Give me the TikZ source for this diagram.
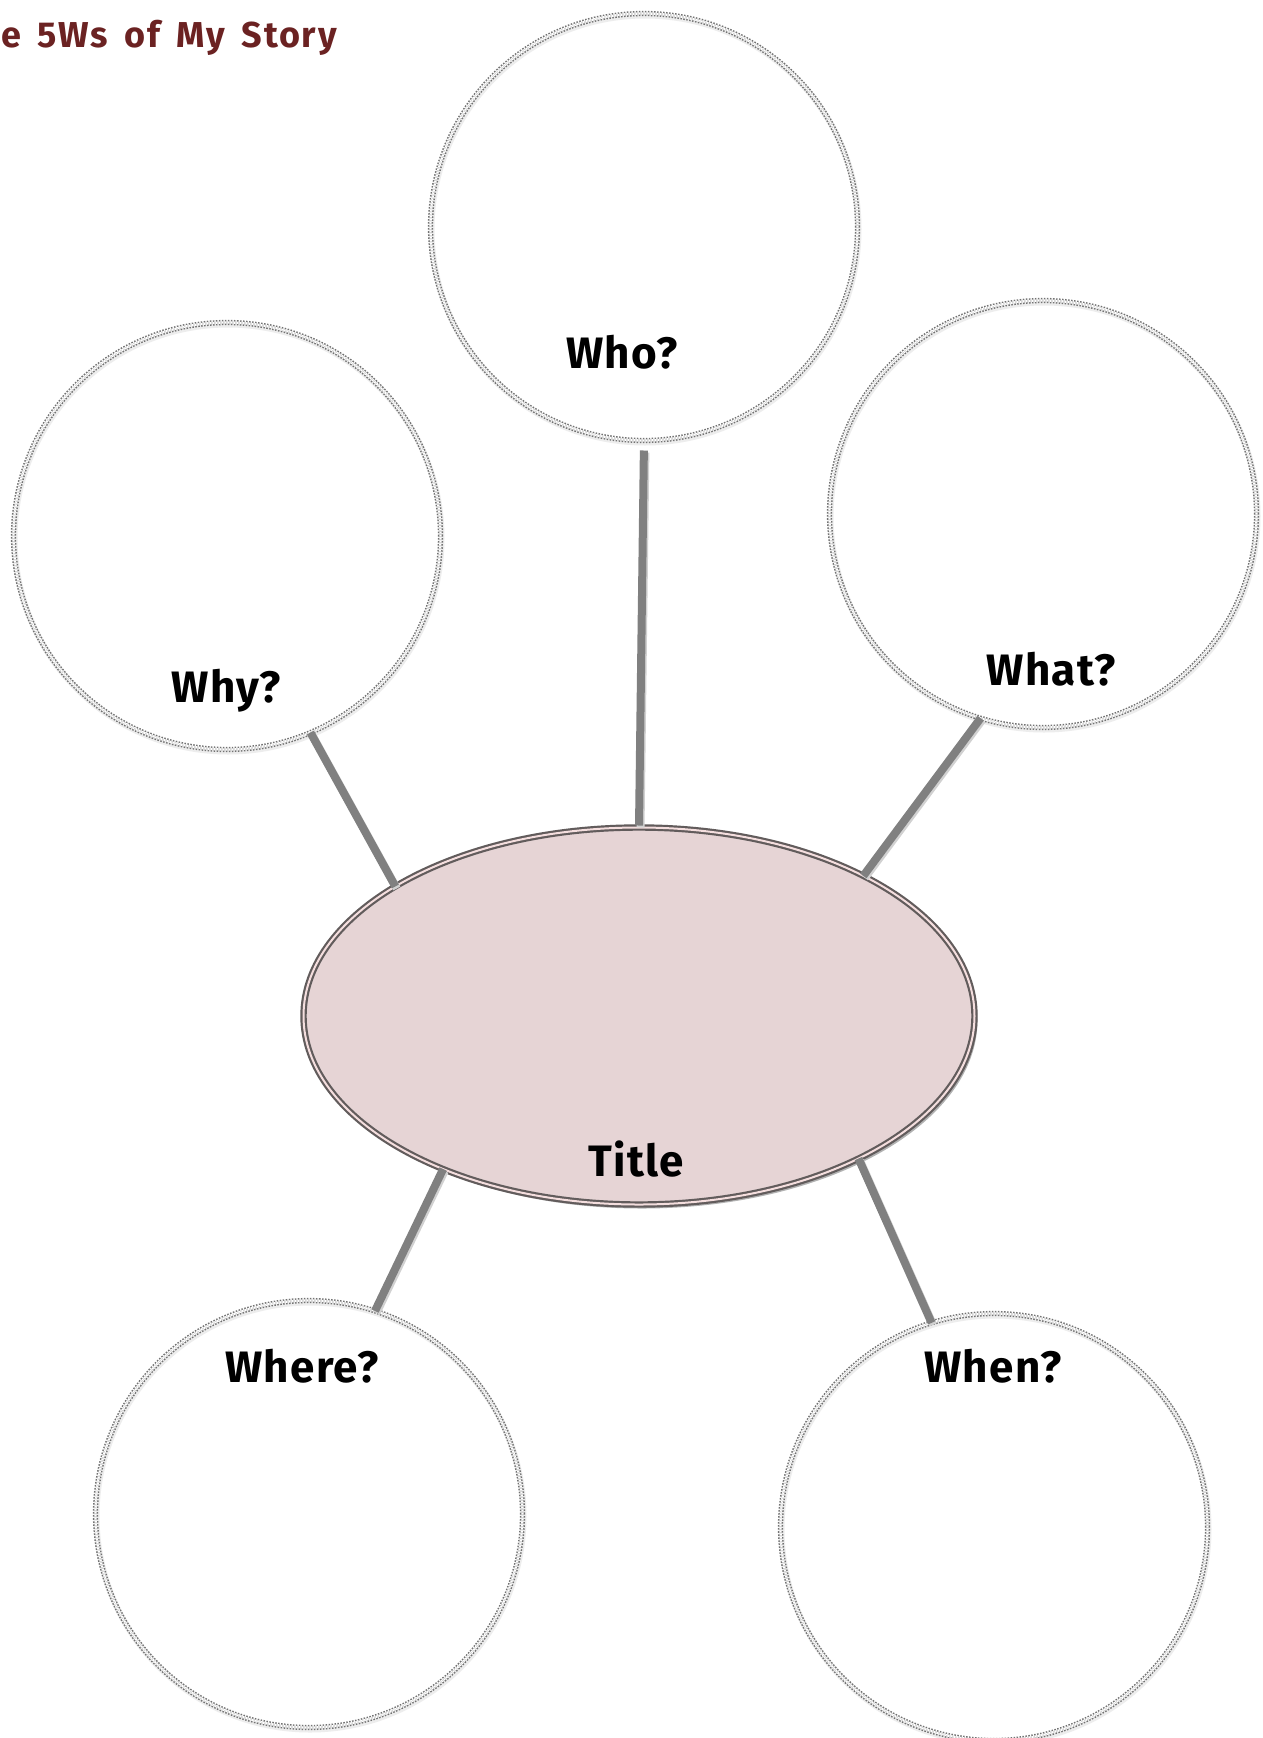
\documentclass[tikz,border=0pt]{standalone}
\usepackage{fontspec}
\setmainfont{Fira Sans}
\newfontfamily\headfont[LetterSpace=5,WordSpace=1.6]{Fira Sans}
\newfontfamily\labfont[LetterSpace=3]{Fira Sans}
\usetikzlibrary{shapes.geometric,shadows}
\definecolor{ringgray}{HTML}{727272}
\definecolor{linkgray}{HTML}{808080}
\definecolor{titlefill}{HTML}{E6D4D5}
\definecolor{titleedge}{HTML}{625C5C}
\definecolor{titlegap}{HTML}{F4DEDE}
\definecolor{headred}{HTML}{6B2222}
\tikzset{
  bubble/.style={circle, inner sep=0pt, outer sep=0pt, minimum size=427pt,
    draw=ringgray, line width=1.5pt, double=white, double distance=2.3pt,
    dash pattern=on 1.5pt off 1.5pt,
    preaction={draw=black!7, line width=6pt, solid, double=none, transform canvas={xshift=1pt,yshift=-2pt}}},
  titleoval/.style={ellipse, inner sep=0pt, outer sep=0pt, minimum width=671pt, minimum height=377pt,
    fill=titlefill, draw=titleedge, line width=2.2pt, double=titlegap, double distance=2pt,
    drop shadow={shadow xshift=3pt, shadow yshift=-4pt, fill=black, opacity=0.3}},
  link/.style={draw=linkgray, line width=8pt,
    preaction={draw=black!18, line width=8pt, transform canvas={xshift=1.5pt,yshift=-2pt}}},
  qlabel/.style={anchor=base, inner sep=0pt, font=\fontsize{44}{50}\selectfont\labfont\bfseries, text=black},
  headline/.style={anchor=base east, inner sep=0pt, font=\fontsize{36}{42}\selectfont\headfont\bfseries, text=headred}
}
\begin{document}
\begin{tikzpicture}[x=1pt,y=-1pt]
\useasboundingbox (0,0) rectangle (1262,1738);
\fill[white] (0,0) rectangle (1262,1738);

% heading
\node[headline] (head) at (337,47) {The 5Ws of My Story};

% circles
\node[bubble] (who)   at (644,227)  {};
\node[bubble] (why)   at (227,536)  {};
\node[bubble] (what)  at (1043,514) {};
\node[bubble] (where) at (309,1514) {};
\node[bubble] (when)  at (994,1527) {};

% central oval
\node[titleoval] (title) at (639,1016) {};

% connectors
\draw[link, shorten <=10pt, shorten >=2pt] (who.-90.5) -- (title.90.6);
\draw[link] (why.-67.2) -- (title.152.7);
\draw[link] (what.-107.8) -- (title.32.9);
\draw[link] (title.218.5) -- (where.72.7);
\draw[link] (title.-33.6) -- (when.107.4);

% labels
\node[qlabel] (wholbl)   at (622,368)  {Who?};
\node[qlabel] (whylbl)   at (226,702)  {Why?};
\node[qlabel] (whatlbl)  at (1051,685) {What?};
\node[qlabel] (wherelbl) at (302,1382) {Where?};
\node[qlabel] (whenlbl)  at (993,1382) {When?};
\node[qlabel] (titlelbl) at (636,1176) {Title};
\end{tikzpicture}
\end{document}
